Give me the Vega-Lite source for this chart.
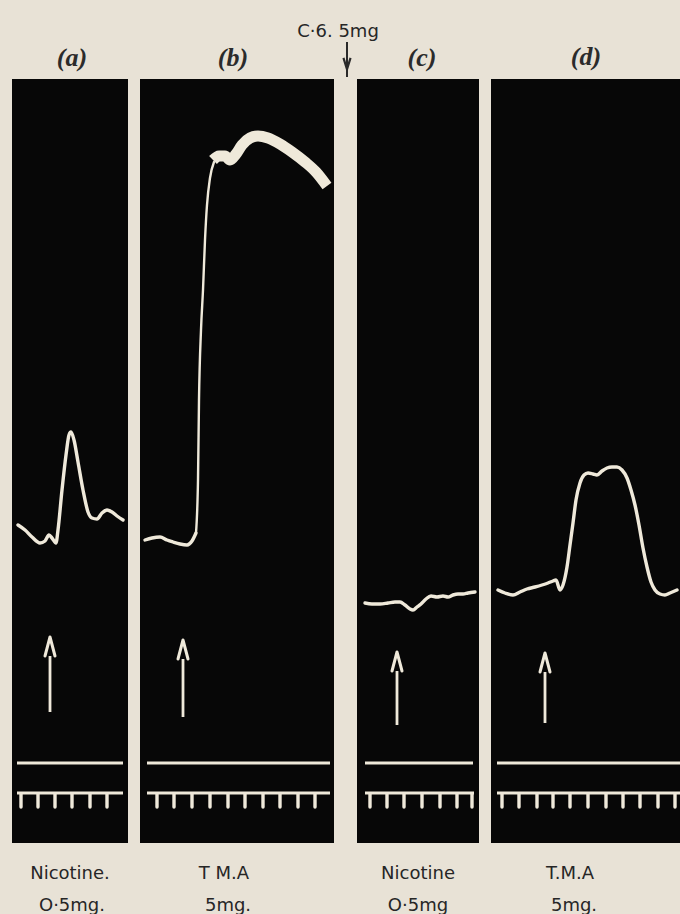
{
  "$schema": "https://vega.github.io/schema/vega-lite/v6.json",
  "width": 680,
  "height": 914,
  "padding": 0,
  "autosize": {"type": "none"},
  "background": "#e8e2d6",
  "config": {"view": {"stroke": null}},
  "datasets": {
    "panels": [
      {"panel": "a", "x0": 12, "x1": 128, "y0": 79, "y1": 843},
      {"panel": "b", "x0": 140, "x1": 334, "y0": 79, "y1": 843},
      {"panel": "c", "x0": 357, "x1": 479, "y0": 79, "y1": 843},
      {"panel": "d", "x0": 491, "x1": 680, "y0": 79, "y1": 843}
    ],
    "traces": [
      {"series": "a", "part": "normal", "t": 1, "x": 18, "y": 525},
      {"series": "a", "part": "normal", "t": 2, "x": 25, "y": 530},
      {"series": "a", "part": "normal", "t": 3, "x": 32, "y": 537},
      {"series": "a", "part": "normal", "t": 4, "x": 40, "y": 543},
      {"series": "a", "part": "normal", "t": 5, "x": 45, "y": 541},
      {"series": "a", "part": "normal", "t": 6, "x": 49, "y": 535},
      {"series": "a", "part": "normal", "t": 7, "x": 52, "y": 538},
      {"series": "a", "part": "normal", "t": 8, "x": 56, "y": 543},
      {"series": "a", "part": "normal", "t": 9, "x": 58, "y": 530},
      {"series": "a", "part": "normal", "t": 10, "x": 62, "y": 490},
      {"series": "a", "part": "normal", "t": 11, "x": 66, "y": 455},
      {"series": "a", "part": "normal", "t": 12, "x": 69, "y": 435},
      {"series": "a", "part": "normal", "t": 13, "x": 71, "y": 432},
      {"series": "a", "part": "normal", "t": 14, "x": 74, "y": 440},
      {"series": "a", "part": "normal", "t": 15, "x": 78, "y": 462},
      {"series": "a", "part": "normal", "t": 16, "x": 83, "y": 490},
      {"series": "a", "part": "normal", "t": 17, "x": 88, "y": 512},
      {"series": "a", "part": "normal", "t": 18, "x": 92, "y": 518},
      {"series": "a", "part": "normal", "t": 19, "x": 97, "y": 519},
      {"series": "a", "part": "normal", "t": 20, "x": 102, "y": 513},
      {"series": "a", "part": "normal", "t": 21, "x": 107, "y": 510},
      {"series": "a", "part": "normal", "t": 22, "x": 112, "y": 512},
      {"series": "a", "part": "normal", "t": 23, "x": 117, "y": 516},
      {"series": "a", "part": "normal", "t": 24, "x": 123, "y": 520},

      {"series": "b1", "part": "normal", "t": 1, "x": 145, "y": 540},
      {"series": "b1", "part": "normal", "t": 2, "x": 152, "y": 538},
      {"series": "b1", "part": "normal", "t": 3, "x": 160, "y": 537},
      {"series": "b1", "part": "normal", "t": 4, "x": 167, "y": 540},
      {"series": "b1", "part": "normal", "t": 5, "x": 173, "y": 542},
      {"series": "b1", "part": "normal", "t": 6, "x": 180, "y": 544},
      {"series": "b1", "part": "normal", "t": 7, "x": 187, "y": 545},
      {"series": "b1", "part": "normal", "t": 8, "x": 192, "y": 541},
      {"series": "b1", "part": "normal", "t": 9, "x": 196, "y": 533},
      {"series": "b2", "part": "rise", "t": 1, "x": 196, "y": 533},
      {"series": "b2", "part": "rise", "t": 2, "x": 198, "y": 480},
      {"series": "b2", "part": "rise", "t": 3, "x": 199, "y": 400},
      {"series": "b2", "part": "rise", "t": 4, "x": 201, "y": 330},
      {"series": "b2", "part": "rise", "t": 5, "x": 203, "y": 290},
      {"series": "b2", "part": "rise", "t": 6, "x": 205, "y": 240},
      {"series": "b2", "part": "rise", "t": 7, "x": 207, "y": 205},
      {"series": "b2", "part": "rise", "t": 8, "x": 210, "y": 178},
      {"series": "b2", "part": "rise", "t": 9, "x": 214, "y": 162},
      {"series": "b3", "part": "plateau", "t": 1, "x": 213, "y": 160},
      {"series": "b3", "part": "plateau", "t": 2, "x": 219, "y": 156},
      {"series": "b3", "part": "plateau", "t": 3, "x": 225, "y": 156},
      {"series": "b3", "part": "plateau", "t": 4, "x": 230, "y": 160},
      {"series": "b3", "part": "plateau", "t": 5, "x": 236, "y": 154},
      {"series": "b3", "part": "plateau", "t": 6, "x": 242, "y": 145},
      {"series": "b3", "part": "plateau", "t": 7, "x": 250, "y": 138},
      {"series": "b3", "part": "plateau", "t": 8, "x": 258, "y": 136},
      {"series": "b3", "part": "plateau", "t": 9, "x": 268, "y": 138},
      {"series": "b3", "part": "plateau", "t": 10, "x": 280, "y": 144},
      {"series": "b3", "part": "plateau", "t": 11, "x": 292, "y": 152},
      {"series": "b3", "part": "plateau", "t": 12, "x": 305, "y": 162},
      {"series": "b3", "part": "plateau", "t": 13, "x": 316, "y": 172},
      {"series": "b3", "part": "plateau", "t": 14, "x": 327, "y": 186},

      {"series": "c", "part": "normal", "t": 1, "x": 365, "y": 603},
      {"series": "c", "part": "normal", "t": 2, "x": 372, "y": 604},
      {"series": "c", "part": "normal", "t": 3, "x": 380, "y": 604},
      {"series": "c", "part": "normal", "t": 4, "x": 388, "y": 603},
      {"series": "c", "part": "normal", "t": 5, "x": 395, "y": 602},
      {"series": "c", "part": "normal", "t": 6, "x": 400, "y": 602},
      {"series": "c", "part": "normal", "t": 7, "x": 405, "y": 605},
      {"series": "c", "part": "normal", "t": 8, "x": 410, "y": 609},
      {"series": "c", "part": "normal", "t": 9, "x": 413, "y": 610},
      {"series": "c", "part": "normal", "t": 10, "x": 417, "y": 607},
      {"series": "c", "part": "normal", "t": 11, "x": 421, "y": 604},
      {"series": "c", "part": "normal", "t": 12, "x": 426, "y": 599},
      {"series": "c", "part": "normal", "t": 13, "x": 431, "y": 596},
      {"series": "c", "part": "normal", "t": 14, "x": 437, "y": 597},
      {"series": "c", "part": "normal", "t": 15, "x": 443, "y": 596},
      {"series": "c", "part": "normal", "t": 16, "x": 448, "y": 597},
      {"series": "c", "part": "normal", "t": 17, "x": 453, "y": 595},
      {"series": "c", "part": "normal", "t": 18, "x": 458, "y": 594},
      {"series": "c", "part": "normal", "t": 19, "x": 463, "y": 594},
      {"series": "c", "part": "normal", "t": 20, "x": 468, "y": 593},
      {"series": "c", "part": "normal", "t": 21, "x": 475, "y": 592},

      {"series": "d", "part": "normal", "t": 1, "x": 498, "y": 590},
      {"series": "d", "part": "normal", "t": 2, "x": 505, "y": 593},
      {"series": "d", "part": "normal", "t": 3, "x": 513, "y": 595},
      {"series": "d", "part": "normal", "t": 4, "x": 520, "y": 592},
      {"series": "d", "part": "normal", "t": 5, "x": 527, "y": 589},
      {"series": "d", "part": "normal", "t": 6, "x": 535, "y": 587},
      {"series": "d", "part": "normal", "t": 7, "x": 542, "y": 585},
      {"series": "d", "part": "normal", "t": 8, "x": 548, "y": 583},
      {"series": "d", "part": "normal", "t": 9, "x": 553, "y": 581},
      {"series": "d", "part": "normal", "t": 10, "x": 556, "y": 580},
      {"series": "d", "part": "normal", "t": 11, "x": 560, "y": 590},
      {"series": "d", "part": "normal", "t": 12, "x": 563, "y": 585},
      {"series": "d", "part": "normal", "t": 13, "x": 567, "y": 567},
      {"series": "d", "part": "normal", "t": 14, "x": 570, "y": 545},
      {"series": "d", "part": "normal", "t": 15, "x": 573, "y": 523},
      {"series": "d", "part": "normal", "t": 16, "x": 576, "y": 500},
      {"series": "d", "part": "normal", "t": 17, "x": 580, "y": 483},
      {"series": "d", "part": "normal", "t": 18, "x": 584, "y": 475},
      {"series": "d", "part": "normal", "t": 19, "x": 588, "y": 473},
      {"series": "d", "part": "normal", "t": 20, "x": 593, "y": 474},
      {"series": "d", "part": "normal", "t": 21, "x": 597, "y": 475},
      {"series": "d", "part": "normal", "t": 22, "x": 602, "y": 471},
      {"series": "d", "part": "normal", "t": 23, "x": 607, "y": 468},
      {"series": "d", "part": "normal", "t": 24, "x": 612, "y": 467},
      {"series": "d", "part": "normal", "t": 25, "x": 617, "y": 467},
      {"series": "d", "part": "normal", "t": 26, "x": 622, "y": 470},
      {"series": "d", "part": "normal", "t": 27, "x": 627, "y": 478},
      {"series": "d", "part": "normal", "t": 28, "x": 631, "y": 490},
      {"series": "d", "part": "normal", "t": 29, "x": 635, "y": 505},
      {"series": "d", "part": "normal", "t": 30, "x": 639, "y": 525},
      {"series": "d", "part": "normal", "t": 31, "x": 643, "y": 548},
      {"series": "d", "part": "normal", "t": 32, "x": 647, "y": 567},
      {"series": "d", "part": "normal", "t": 33, "x": 651, "y": 582},
      {"series": "d", "part": "normal", "t": 34, "x": 655, "y": 590},
      {"series": "d", "part": "normal", "t": 35, "x": 660, "y": 594},
      {"series": "d", "part": "normal", "t": 36, "x": 665, "y": 595},
      {"series": "d", "part": "normal", "t": 37, "x": 670, "y": 593},
      {"series": "d", "part": "normal", "t": 38, "x": 677, "y": 590}
    ],
    "arrows": [
      {"panel": "a", "x": 50, "head": 647, "y1": 656, "y2": 712},
      {"panel": "b", "x": 183, "head": 650, "y1": 659, "y2": 717},
      {"panel": "c", "x": 397, "head": 662, "y1": 671, "y2": 725},
      {"panel": "d", "x": 545, "head": 663, "y1": 672, "y2": 723}
    ],
    "signals": [
      {"panel": "a", "kind": "baseline", "x0": 17, "x1": 123, "y": 763},
      {"panel": "b", "kind": "baseline", "x0": 147, "x1": 330, "y": 763},
      {"panel": "c", "kind": "baseline", "x0": 365, "x1": 473, "y": 763},
      {"panel": "d", "kind": "baseline", "x0": 497, "x1": 680, "y": 763},
      {"panel": "a", "kind": "time", "x0": 17, "x1": 123, "y": 793},
      {"panel": "b", "kind": "time", "x0": 147, "x1": 330, "y": 793},
      {"panel": "c", "kind": "time", "x0": 365, "x1": 474, "y": 793},
      {"panel": "d", "kind": "time", "x0": 497, "x1": 680, "y": 793}
    ],
    "ticks": [
      {"panel": "a", "x": 21}, {"panel": "a", "x": 38}, {"panel": "a", "x": 55},
      {"panel": "a", "x": 72}, {"panel": "a", "x": 90}, {"panel": "a", "x": 107},
      {"panel": "b", "x": 157}, {"panel": "b", "x": 174}, {"panel": "b", "x": 192},
      {"panel": "b", "x": 210}, {"panel": "b", "x": 228}, {"panel": "b", "x": 245},
      {"panel": "b", "x": 263}, {"panel": "b", "x": 280}, {"panel": "b", "x": 298},
      {"panel": "b", "x": 315},
      {"panel": "c", "x": 370}, {"panel": "c", "x": 387}, {"panel": "c", "x": 404},
      {"panel": "c", "x": 422}, {"panel": "c", "x": 440}, {"panel": "c", "x": 457},
      {"panel": "c", "x": 472},
      {"panel": "d", "x": 502}, {"panel": "d", "x": 519}, {"panel": "d", "x": 537},
      {"panel": "d", "x": 553}, {"panel": "d", "x": 570}, {"panel": "d", "x": 588},
      {"panel": "d", "x": 606}, {"panel": "d", "x": 623}, {"panel": "d", "x": 640},
      {"panel": "d", "x": 658}, {"panel": "d", "x": 675}
    ],
    "letters": [
      {"label": "(a)", "x": 72, "y": 66},
      {"label": "(b)", "x": 233, "y": 66},
      {"label": "(c)", "x": 422, "y": 66},
      {"label": "(d)", "x": 586, "y": 65}
    ],
    "notes": [
      {"label": "C·6. 5mg", "x": 338, "y": 37},
      {"label": "Nicotine.", "x": 70, "y": 879},
      {"label": "O·5mg.", "x": 72, "y": 911},
      {"label": "T M.A", "x": 224, "y": 879},
      {"label": "5mg.", "x": 228, "y": 911},
      {"label": "Nicotine", "x": 418, "y": 879},
      {"label": "O·5mg", "x": 418, "y": 911},
      {"label": "T.M.A", "x": 570, "y": 879},
      {"label": "5mg.", "x": 574, "y": 911}
    ],
    "injection": [
      {"label": "C-6", "x": 347, "y1": 42, "y2": 77, "head": 65}
    ]
  },
  "data": {"name": "panels"},
  "layer": [
    {
      "data": {"name": "panels"},
      "mark": {"type": "rect", "color": "#070707"},
      "encoding": {
        "x": {"field": "x0", "type": "quantitative", "scale": {"domain": [0, 680], "nice": false, "zero": false}, "axis": null},
        "x2": {"field": "x1"},
        "y": {"field": "y0", "type": "quantitative", "scale": {"domain": [0, 914], "nice": false, "zero": false, "reverse": true}, "axis": null},
        "y2": {"field": "y1"}
      }
    },
    {
      "data": {"name": "traces"},
      "transform": [{"filter": "datum.part === 'normal'"}],
      "mark": {"type": "line", "color": "#efe9da", "strokeWidth": 3.4, "strokeCap": "round", "strokeJoin": "round", "interpolate": "monotone"},
      "encoding": {
        "x": {"field": "x", "type": "quantitative", "axis": null},
        "y": {"field": "y", "type": "quantitative", "axis": null},
        "detail": {"field": "series", "type": "nominal"},
        "order": {"field": "t", "type": "quantitative"}
      }
    },
    {
      "data": {"name": "traces"},
      "transform": [{"filter": "datum.part === 'rise'"}],
      "mark": {"type": "line", "color": "#efe9da", "strokeWidth": 2.4, "strokeCap": "round", "strokeJoin": "round", "interpolate": "monotone"},
      "encoding": {
        "x": {"field": "x", "type": "quantitative", "axis": null},
        "y": {"field": "y", "type": "quantitative", "axis": null},
        "detail": {"field": "series", "type": "nominal"},
        "order": {"field": "t", "type": "quantitative"}
      }
    },
    {
      "data": {"name": "traces"},
      "transform": [{"filter": "datum.part === 'plateau'"}],
      "mark": {"type": "line", "color": "#efe9da", "strokeWidth": 11, "strokeCap": "butt", "strokeJoin": "round", "interpolate": "monotone"},
      "encoding": {
        "x": {"field": "x", "type": "quantitative", "axis": null},
        "y": {"field": "y", "type": "quantitative", "axis": null},
        "detail": {"field": "series", "type": "nominal"},
        "order": {"field": "t", "type": "quantitative"}
      }
    },
    {
      "data": {"name": "arrows"},
      "mark": {"type": "rule", "color": "#efe9da", "strokeWidth": 2.8},
      "encoding": {
        "x": {"field": "x", "type": "quantitative"},
        "y": {"field": "y1", "type": "quantitative"},
        "y2": {"field": "y2"}
      }
    },
    {
      "data": {"name": "arrows"},
      "mark": {"type": "point", "shape": "M -0.5 0.9 L 0 -1 L 0.5 0.9", "filled": false, "color": "#efe9da", "strokeWidth": 3, "size": 400, "opacity": 1, "strokeJoin": "round", "strokeCap": "round"},
      "encoding": {
        "x": {"field": "x", "type": "quantitative"},
        "y": {"field": "head", "type": "quantitative"}
      }
    },
    {
      "data": {"name": "signals"},
      "mark": {"type": "rule", "color": "#efe9da", "strokeWidth": 3},
      "encoding": {
        "x": {"field": "x0", "type": "quantitative"},
        "x2": {"field": "x1"},
        "y": {"field": "y", "type": "quantitative"}
      }
    },
    {
      "data": {"name": "ticks"},
      "mark": {"type": "rule", "color": "#efe9da", "strokeWidth": 3.4, "strokeCap": "round"},
      "encoding": {
        "x": {"field": "x", "type": "quantitative"},
        "y": {"datum": 794, "type": "quantitative"},
        "y2": {"datum": 807}
      }
    },
    {
      "data": {"name": "injection"},
      "mark": {"type": "rule", "color": "#2a2a2a", "strokeWidth": 2},
      "encoding": {
        "x": {"field": "x", "type": "quantitative"},
        "y": {"field": "y1", "type": "quantitative"},
        "y2": {"field": "y2"}
      }
    },
    {
      "data": {"name": "injection"},
      "mark": {"type": "point", "shape": "M -0.5 -1 L 0 0.6 L 0.5 -1", "filled": false, "color": "#2a2a2a", "strokeWidth": 2.2, "size": 200, "opacity": 1},
      "encoding": {
        "x": {"field": "x", "type": "quantitative"},
        "y": {"field": "head", "type": "quantitative"}
      }
    },
    {
      "data": {"name": "letters"},
      "mark": {"type": "text", "font": "Liberation Serif", "fontStyle": "italic", "fontWeight": "bold", "fontSize": 26, "color": "#2b2b2b", "align": "center", "baseline": "alphabetic"},
      "encoding": {
        "x": {"field": "x", "type": "quantitative"},
        "y": {"field": "y", "type": "quantitative"},
        "text": {"field": "label"}
      }
    },
    {
      "data": {"name": "notes"},
      "mark": {"type": "text", "font": "DejaVu Sans", "fontSize": 18, "color": "#262626", "align": "center", "baseline": "alphabetic"},
      "encoding": {
        "x": {"field": "x", "type": "quantitative"},
        "y": {"field": "y", "type": "quantitative"},
        "text": {"field": "label"}
      }
    }
  ]
}
